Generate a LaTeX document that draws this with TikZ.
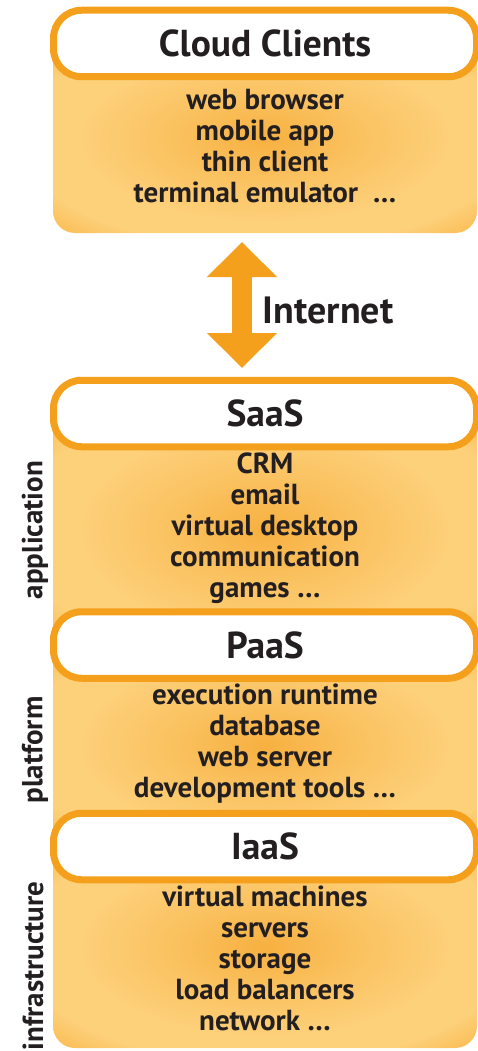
\documentclass[tikz,border=0pt]{standalone}
\usepackage{xcolor}
\usepackage{fontspec}
\setmainfont{PT Sans}
\usepackage{tikz}
\usetikzlibrary{arrows.meta}

\definecolor{cborange}{HTML}{F5A01C}
\definecolor{cblight}{HTML}{FDD07A}
\definecolor{cbmid}{HTML}{F7B040}
\definecolor{ink}{HTML}{231F20}
\pgfdeclareradialshading{glow}{\pgfpoint{0bp}{0bp}}{color(0bp)=(cbmid); color(10bp)=(cblight!50!cbmid); color(22bp)=(cblight); color(29bp)=(cblight); color(37bp)=(cblight!45!cborange); color(45bp)=(cborange); color(72bp)=(cborange)}

\begin{document}
\begin{tikzpicture}[x=1pt, y=-1pt,
    layer/.style={shading=glow, rounded corners=22pt},
    header/.style={draw=cborange, line width=7pt, fill=white, rounded corners=28pt,
        minimum width=423pt, minimum height=66.5pt, inner sep=0pt, text=ink,
        font=\fontsize{37.5}{40}\selectfont\bfseries},
    items/.style={align=center, text=ink, inner sep=0pt,
        font=\fontsize{29}{31}\selectfont\bfseries},
    side/.style={rotate=90, text=ink, inner sep=0pt,
        font=\fontsize{29}{31}\selectfont\bfseries}]
    \useasboundingbox (0,0) rectangle (478,1051);

    \path[layer] (53,43) rectangle (477,233);
    \path[shading=glow] (53,413) rectangle (477,647);
    \path[shading=glow] (53,645) rectangle (477,847);
    \path[layer] (53,846) rectangle (477,1048);

    \node[header] (CC) at (265,43.5) {Cloud Clients};
    \node[header] (SaaS) at (265,413.5) {SaaS};
    \node[header] (PaaS) at (265,645) {PaaS};
    \node[header] (IaaS) at (265,846.5) {IaaS};

    \node[items] (CCi) at (265,146) {web browser\\mobile app\\thin client\\terminal emulator~ …};
    \node[items] (SaaSi) at (265,528) {CRM\\email\\virtual desktop\\communication\\games …};
    \node[items] (PaaSi) at (265,744) {execution runtime\\database\\web server\\development tools …};
    \node[items] (IaaSi) at (265,958) {virtual machines\\servers\\storage\\load balancers\\network …};

    \node[side] (app) at (35,530) {application};
    \node[side] (plat) at (35,750) {platform};
    \node[side] (infra) at (33,966) {infrastructure};

    \coordinate (T) at (242,242);
    \coordinate (B) at (242,368);
    \node[text=ink, inner sep=0pt, font=\fontsize{38}{40}\selectfont\bfseries] (Net) at (328,310) {Internet};
    \draw[cborange, line width=20pt, {Triangle[width=68pt,length=35pt]}-{Triangle[width=68pt,length=35pt]}] (T) -- (B);
\end{tikzpicture}
\end{document}
